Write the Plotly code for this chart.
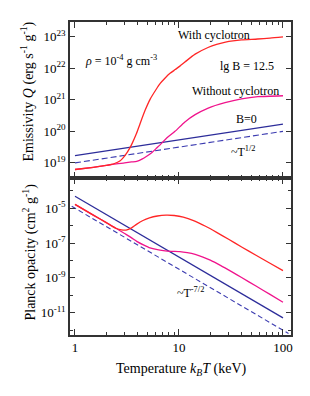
import plotly.graph_objects as go
from plotly.subplots import make_subplots

# ---------------- data (log10 values) ----------------
# Top panel: emissivity Q (erg s^-1 g^-1)
T_b0_top = [1, 10, 100]
Q_b0 = [19.23, 19.73, 20.23]          # B = 0
T_half = [1, 10, 100]
Q_half = [19.0, 19.5, 20.0]           # ~T^1/2 guide

T_wo_top = [1, 1.5, 2, 2.5, 3, 3.5, 3.92, 4.4, 4.89, 5.5, 6.1, 6.8, 7.62, 9.15,
            11.4, 14.3, 19.1, 27.7, 39.9, 57.4, 100]
Q_wo = [18.79, 18.86, 18.92, 18.97, 19.0, 19.03, 19.05, 19.12, 19.21, 19.33, 19.47,
        19.62, 19.79, 20.0, 20.3, 20.53, 20.74, 20.91, 21.03, 21.1, 21.13]

T_wc_top = [1, 1.5, 2, 2.4, 2.7, 2.9, 3.2, 3.5, 3.9, 4.2, 4.7, 5.3, 6.0, 6.6, 7.4,
            8.2, 9.2, 10.2, 11.4, 14.3, 19, 23, 28, 33, 40, 57, 75, 100]
Q_wc = [18.79, 18.86, 18.92, 18.98, 19.06, 19.16, 19.35, 19.58, 19.93, 20.22, 20.65,
        21.03, 21.32, 21.52, 21.7, 21.84, 21.96, 22.07, 22.2, 22.45, 22.66, 22.76,
        22.83, 22.87, 22.9, 22.93, 22.96, 23.0]

# Bottom panel: Planck opacity (cm^2 g^-1)
T_b0_bot = [1, 10, 100]
K_b0 = [-4.3, -7.8, -11.3]
T_72 = [0.93, 10, 113]
K_72 = [-4.88, -8.5, -12.2]           # ~T^-7/2 guide

T_wo_bot = [1, 1.5, 2, 2.5, 3.0, 3.5, 3.92, 4.6, 5.26, 6.2, 7.07, 8.5, 10.2, 12,
            14.3, 17, 20, 25, 32, 40, 55, 75, 100]
K_wo = [-4.77, -5.39, -5.82, -6.16, -6.45, -6.7, -6.9, -7.12, -7.28, -7.38, -7.43,
        -7.47, -7.49, -7.55, -7.65, -7.8, -7.98, -8.28, -8.64, -8.98, -9.47, -9.95,
        -10.4]

T_wc_bot = [1, 1.5, 2, 2.5, 2.8, 3.1, 3.5, 3.9, 4.5, 5.2, 6.2, 7.5, 9, 11, 14, 18,
            23, 30, 40, 55, 75, 100]
K_wc = [-4.77, -5.39, -5.82, -6.16, -6.24, -6.25, -6.12, -5.92, -5.7, -5.55, -5.44,
        -5.39, -5.41, -5.5, -5.72, -6.03, -6.38, -6.78, -7.22, -7.7, -8.16, -8.58]

x_ticks = [1, 10, 100]
x_minor = [2, 3, 4, 5, 6, 7, 8, 9, 20, 30, 40, 50, 60, 70, 80, 90]
top_y_exp = [19, 20, 21, 22, 23]
bot_y_exp = [-5, -7, -9, -11]
bot_y_minor_exp = [-4, -6, -8, -10, -12]

RED = '#FF2626'
MAG = '#F0148C'
BLUE = '#2D2D9A'
BLUE_D = '#3B3BB0'
FONT = 'Liberation Serif'

# page body has an 8px margin; figure sized to fit the 310x396 window
OFF = 8
W, H = 310 - OFF, 396 - OFF
L, R, TOP, BOT = 70 - OFF, 19, 20 - OFF, 61


def p(v):
    return [10.0 ** x for x in v]


def px(xp):
    return (xp - OFF - L) / (W - L - R)


def py(yp):
    return (H - BOT - (yp - OFF)) / (H - TOP - BOT)


fig = make_subplots(rows=2, cols=1, shared_xaxes=True, vertical_spacing=0,
                    row_heights=[157, 158])

lw = 1.3
sm = 0.6
# top panel
fig.add_trace(go.Scatter(x=T_half, y=p(Q_half), mode='lines',
                         line=dict(color=BLUE_D, width=1.1, dash='6px,3px')), row=1, col=1)
fig.add_trace(go.Scatter(x=T_b0_top, y=p(Q_b0), mode='lines',
                         line=dict(color=BLUE, width=lw)), row=1, col=1)
fig.add_trace(go.Scatter(x=T_wo_top, y=p(Q_wo), mode='lines',
                         line=dict(color=MAG, width=lw, shape='spline', smoothing=sm)), row=1, col=1)
fig.add_trace(go.Scatter(x=T_wc_top, y=p(Q_wc), mode='lines',
                         line=dict(color=RED, width=lw, shape='spline', smoothing=sm)), row=1, col=1)
# bottom panel
fig.add_trace(go.Scatter(x=T_72, y=p(K_72), mode='lines',
                         line=dict(color=BLUE_D, width=1.1, dash='5px,3px')), row=2, col=1)
fig.add_trace(go.Scatter(x=T_b0_bot, y=p(K_b0), mode='lines',
                         line=dict(color=BLUE, width=lw)), row=2, col=1)
fig.add_trace(go.Scatter(x=T_wo_bot, y=p(K_wo), mode='lines',
                         line=dict(color=MAG, width=lw, shape='spline', smoothing=sm)), row=2, col=1)
fig.add_trace(go.Scatter(x=T_wc_bot, y=p(K_wc), mode='lines',
                         line=dict(color=RED, width=lw, shape='spline', smoothing=sm)), row=2, col=1)

axis_common = dict(showline=True, linewidth=1.5, linecolor='#333', mirror='allticks',
                   ticks='inside', tickcolor='#333', tickwidth=1, showgrid=False,
                   zeroline=False, tickfont=dict(family=FONT, size=13, color='black'))

xcommon = dict(axis_common, type='log', range=[-0.048, 2.077], tickmode='array',
               tickvals=x_ticks, ticktext=[str(v) for v in x_ticks], ticklen=6,
               minor=dict(tickmode='array', tickvals=x_minor, ticks='inside', ticklen=3,
                          tickcolor='#333', tickwidth=1, showgrid=False))
fig.update_xaxes(**xcommon)
fig.update_xaxes(showticklabels=False, row=1, col=1)

fig.update_yaxes(**axis_common, type='log', range=[18.52, 23.47], tickmode='array',
                 tickvals=[10.0 ** e for e in top_y_exp],
                 ticktext=['10<sup>%d</sup>' % e for e in top_y_exp], ticklen=5,
                 row=1, col=1)
fig.update_yaxes(**axis_common, type='log', range=[-12.287, -3.253], tickmode='array',
                 tickvals=[10.0 ** e for e in bot_y_exp],
                 ticktext=['10<sup>%d</sup>' % e for e in bot_y_exp], ticklen=5,
                 minor=dict(tickmode='array', tickvals=[10.0 ** e for e in bot_y_minor_exp],
                            ticks='inside', ticklen=3, tickcolor='#333', tickwidth=1,
                            showgrid=False),
                 row=2, col=1)

ann = []


def add(text, xp, yp, size=12, angle=0):
    ann.append(dict(text=text, x=px(xp), y=py(yp), xref='paper', yref='paper',
                    showarrow=False, textangle=angle, xanchor='center', yanchor='middle',
                    font=dict(family=FONT, size=size, color='black')))


add('<i>ρ</i> = 10<sup>-4</sup> g cm<sup>-3</sup>', 121, 59)
add('With cyclotron', 214, 33)
add('lg B = 12.5', 247, 64)
add('Without cyclotron', 235, 89)
add('B=0', 246, 118)
add('~T<sup>1/2</sup>', 243, 150)
add('~T<sup>-7/2</sup>', 190, 292)
add('Emissivity <i>Q</i> (erg s<sup>-1</sup> g<sup>-1</sup>)', 28, 90, size=14, angle=-90)
add('Planck opacity (cm<sup>2</sup> g<sup>-1</sup>)', 30, 252, size=14, angle=-90)
add('Temperature <i>k</i><sub><i>B</i></sub><i>T</i> (keV)', 181, 370, size=14)

fig.update_layout(width=W, height=H, margin=dict(l=L, r=R, t=TOP, b=BOT),
                  paper_bgcolor='white', plot_bgcolor='white', showlegend=False,
                  annotations=ann, font=dict(family=FONT))

fig.write_html('out.html')
